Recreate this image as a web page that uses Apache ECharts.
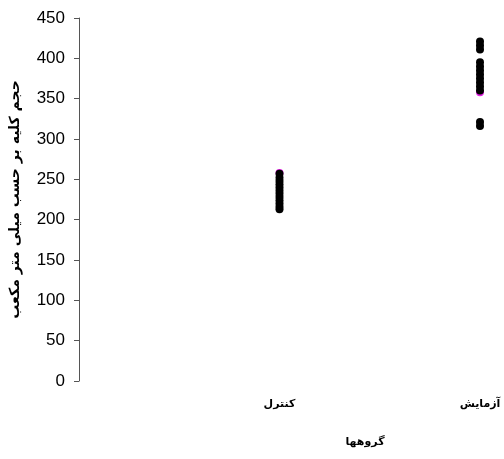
<!DOCTYPE html>
<html><head><meta charset="utf-8">
<script src="https://cdn.jsdelivr.net/npm/echarts@6/dist/echarts.min.js"></script>
<style>html,body{margin:0;padding:0;background:#fff}#c{width:504px;height:459px}</style>
</head><body><div id="c"></div>
<script>
const categories = ['کنترل', 'آزمایش'];
const controlValues = [257, 252, 248, 244, 240, 236, 232, 228, 224, 220, 216, 213];
const experimentValues = [421, 416, 411, 395, 390, 385, 380, 375, 370, 365, 360, 321, 316];
const accentValues = [[1, 258], [2, 358]];
const yTicks = [0, 50, 100, 150, 200, 250, 300, 350, 400, 450];
const yTitle = 'حجم کلیه بر حسب میلی متر مکعب';
const xTitle = 'گروهها';

const pts = [];
controlValues.forEach(v => pts.push([1, v]));
experimentValues.forEach(v => pts.push([2, v]));

const chart = echarts.init(document.getElementById('c'));
chart.setOption({
  animation: false,
  grid: {left: 77, right: 24, top: 18, bottom: 78},
  xAxis: {
    type: 'value', min: 0, max: 2, interval: 1,
    axisLine: {show: false}, axisTick: {show: false}, splitLine: {show: false},
    axisLabel: {
      margin: 18, fontSize: 11, fontWeight: 'bold', color: '#000',
      fontFamily: 'DejaVu Sans',
      formatter: v => (v >= 1 ? categories[v - 1] : '')
    }
  },
  yAxis: {
    type: 'value', min: yTicks[0], max: yTicks[yTicks.length - 1], interval: 50,
    name: yTitle, nameLocation: 'middle', nameGap: 57, nameRotate: 90,
    nameTextStyle: {fontSize: 14, fontWeight: 'bold', color: '#000', fontFamily: 'DejaVu Sans'},
    axisLine: {show: true, lineStyle: {color: '#555', width: 1}},
    axisTick: {show: true, length: 5, lineStyle: {color: '#555'}},
    splitLine: {show: false},
    axisLabel: {margin: 14, fontSize: 17, color: '#000', fontFamily: '"Liberation Sans", Arial, sans-serif'}
  },
  graphic: [{
    type: 'text', x: 365, y: 442,
    style: {text: xTitle, fontSize: 11, fontWeight: 'bold', fill: '#000', fontFamily: 'DejaVu Sans', align: 'center', verticalAlign: 'middle'}
  }],
  series: [
    {type: 'scatter', data: accentValues, symbolSize: 8, itemStyle: {color: '#e020e0', opacity: 1}, z: 1},
    {type: 'scatter', data: pts, symbolSize: 8, itemStyle: {color: '#000', opacity: 1}, z: 2}
  ]
});
</script></body></html>
